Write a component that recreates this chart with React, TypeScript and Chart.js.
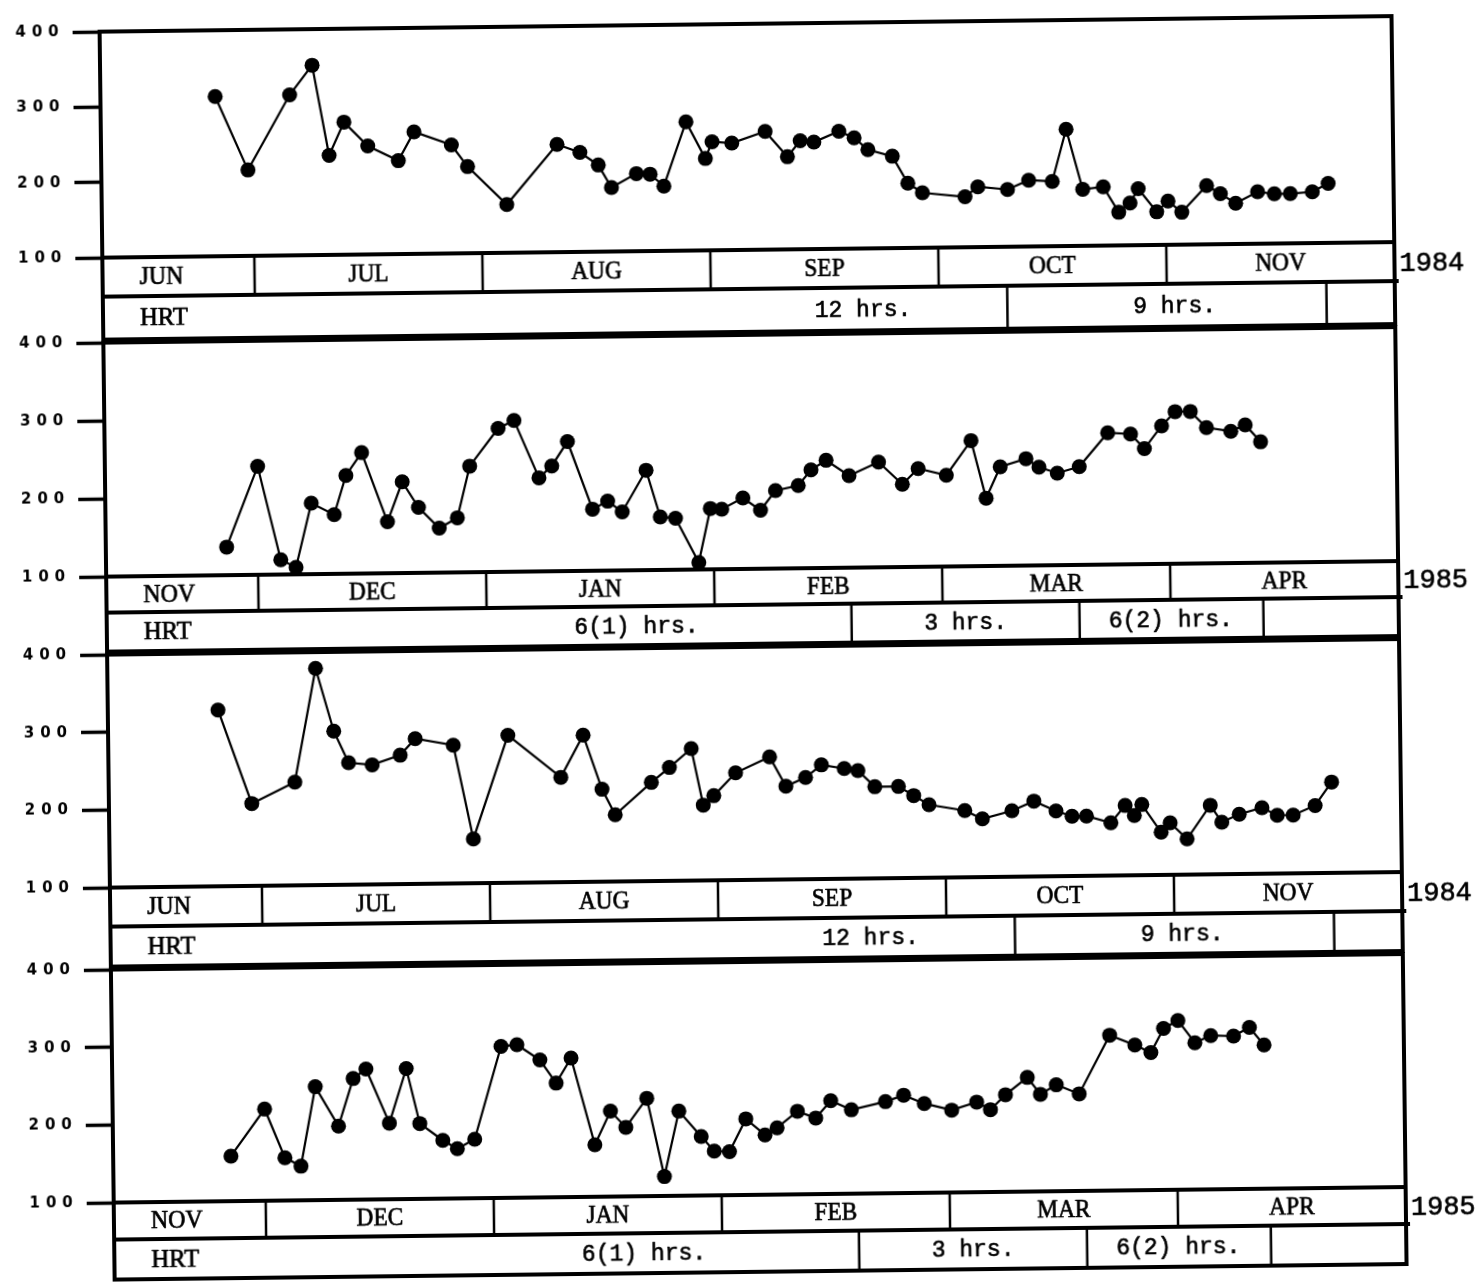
import React, { useEffect, useRef } from "react";
import { Chart, registerables } from "chart.js";

Chart.register(...registerables);

// Positions along the season are in day units: 30 units per month,
// the first month of each row starting at 0.
const monthsA = ["JUN", "JUL", "AUG", "SEP", "OCT", "NOV"];
const monthsB = ["NOV", "DEC", "JAN", "FEB", "MAR", "APR"];
const yTicks = [100, 200, 300, 400];

// Jun–Nov 1984, upper series
const posA1 = [25.1, 29.3, 34.9, 37.9, 40, 42, 45.1, 49.1, 51.2, 56.1, 58.2, 63.3, 70, 73, 75.4, 77.1, 80.4, 82.2, 84, 87, 89.5, 90.4, 93, 97.4, 100.3, 102, 103.8, 107.1, 109.1, 110.9, 114.1, 116.1, 118, 123.6, 125.3, 129.2, 132, 135.1, 137, 139.1, 141.8, 143.8, 145.3, 146.4, 148.8, 150.3, 152.1, 155.4, 157.2, 159.2, 162.1, 164.3, 166.4, 169.3, 171.4];
const valA1 = [312, 214, 313, 352, 232, 276, 244, 224, 262, 244, 215, 164, 243, 232, 215, 185, 203, 202, 186, 271, 222, 244, 242, 257, 223, 244, 242, 256, 247, 231, 222, 186, 173, 167, 180, 176, 188, 186, 255, 175, 178, 144, 156, 175, 144, 158, 143, 178, 167, 154, 169, 166, 166, 168, 179];

// Nov 1984 – Apr 1985, upper series
const posB1 = [25.9, 30.1, 33, 35, 37.1, 40.1, 41.7, 43.8, 47.1, 49.1, 51.2, 53.9, 56.3, 58, 61.8, 63.9, 67.1, 68.8, 70.9, 74.1, 76.1, 78, 81.2, 83, 85, 88, 89.6, 91.1, 93.9, 96.2, 98.2, 101.2, 102.9, 104.9, 107.9, 111.8, 114.9, 117, 120.7, 124, 125.9, 127.8, 131.2, 132.9, 135.3, 138.2, 142, 145, 146.8, 149.1, 150.9, 152.9, 155, 158.2, 160.1, 162.1];
const valB1 = [136, 239, 119, 109, 191, 176, 226, 255, 166, 217, 184, 157, 170, 236, 284, 294, 220, 235, 266, 179, 189, 175, 228, 168, 166, 109, 178, 177, 191, 175, 200, 206, 226, 238, 218, 235, 206, 226, 217, 261, 187, 227, 237, 226, 218, 226, 269, 267, 248, 277, 295, 295, 274, 269, 277, 255];

// Jun–Nov 1984, lower series
const posA2 = [24.5, 28.8, 34.5, 37.4, 39.7, 41.6, 44.7, 48.4, 50.4, 55.4, 57.9, 62.6, 69.5, 72.5, 74.9, 76.6, 81.4, 83.8, 86.7, 88.2, 89.6, 92.5, 97, 99.1, 101.7, 103.8, 106.8, 108.6, 110.8, 113.9, 115.9, 117.9, 122.6, 124.9, 128.8, 131.7, 134.6, 136.7, 138.6, 141.8, 143.7, 144.9, 145.9, 148.4, 149.6, 151.8, 154.9, 156.4, 158.7, 161.7, 163.7, 165.8, 168.7, 170.9];
const valA2 = [327, 206, 233, 379, 298, 257, 254, 266, 287, 278, 157, 290, 235, 289, 219, 186, 227, 246, 270, 197, 209, 238, 258, 220, 231, 247, 242, 239, 218, 218, 206, 194, 186, 175, 185, 197, 184, 177, 177, 168, 190, 177, 191, 155, 167, 146, 189, 167, 177, 185, 175, 175, 187, 217];

// Nov 1984 – Apr 1985, lower series
const posB2 = [25.5, 30, 32.6, 34.7, 36.7, 39.7, 41.7, 43.4, 46.4, 48.7, 50.4, 53.4, 55.3, 57.6, 61.2, 63.3, 66.3, 68.4, 70.4, 73.4, 75.5, 77.5, 80.3, 82.5, 84.5, 87.4, 89.1, 91.1, 93.3, 95.8, 97.4, 100.1, 102.5, 104.5, 107.2, 111.7, 114.1, 116.8, 120.4, 123.7, 125.5, 127.5, 130.4, 132.1, 134.2, 137.2, 141.3, 144.6, 146.7, 148.4, 150.3, 152.5, 154.6, 157.6, 159.7, 161.6];
const valB2 = [158, 218, 155, 144, 246, 195, 256, 268, 198, 268, 197, 175, 164, 176, 295, 297, 277, 247, 279, 167, 210, 189, 226, 125, 209, 176, 157, 156, 198, 177, 186, 207, 198, 220, 208, 218, 226, 215, 206, 216, 206, 225, 247, 225, 237, 225, 300, 287, 277, 308, 318, 289, 298, 297, 308, 285];

// HRT schedule rows: cell boundaries and label positions (day units)
const hrtCutsA = [129, 171];
const hrtTextA = ["12 hrs.", "9 hrs."];
const hrtAtA = [110, 151];
const hrtCutsB = [108, 138, 162.2];
const hrtTextB = ["6(1) hrs.", "3 hrs.", "6(2) hrs."];
const hrtAtB = [79.7, 123, 150];

const yearA = "1984";
const yearB = "1985";

type Panel = {
  pos: number[];
  val: number[];
  months: string[];
  cuts: number[];
  hrtText: string[];
  hrtAt: number[];
  year: string;
  top: number;
  plotH: number;
  monthH: number;
  hrtH: number;
};

const panels: Panel[] = [
  { pos: posA1, val: valA1, months: monthsA, cuts: hrtCutsA, hrtText: hrtTextA, hrtAt: hrtAtA, year: yearA, top: 21, plotH: 229, monthH: 39, hrtH: 43 },
  { pos: posB1, val: valB1, months: monthsB, cuts: hrtCutsB, hrtText: hrtTextB, hrtAt: hrtAtB, year: yearB, top: 332, plotH: 237, monthH: 36, hrtH: 39 },
  { pos: posA2, val: valA2, months: monthsA, cuts: hrtCutsA, hrtText: hrtTextA, hrtAt: hrtAtA, year: yearA, top: 644, plotH: 236, monthH: 39, hrtH: 40 },
  { pos: posB2, val: valB2, months: monthsB, cuts: hrtCutsB, hrtText: hrtTextB, hrtAt: hrtAtB, year: yearB, top: 959, plotH: 236, monthH: 37, hrtH: 40 },
];

const PAD_TOP = 14;
const PAD_BOTTOM_EXTRA = 6;
const WIDTH = 1479;

// Text with a light outline so the typewriter lettering reads heavier.
function inkText(ctx: CanvasRenderingContext2D, text: string, x: number, y: number, sx: number, align: CanvasTextAlign, weight: number) {
  ctx.save();
  ctx.translate(x, y);
  ctx.scale(sx, 1);
  ctx.textAlign = align;
  ctx.lineWidth = weight;
  ctx.lineJoin = "round";
  ctx.fillText(text, 0, 0);
  ctx.strokeText(text, 0, 0);
  ctx.restore();
}

function makeTablePlugin(p: Panel) {
  return {
    id: "monthTable",
    beforeDraw(chart: any) {
      (chart.ctx as any).letterSpacing = "6px";
    },
    afterDraw(chart: any) {
      const ctx: CanvasRenderingContext2D = chart.ctx;
      const a = chart.chartArea;
      const x = chart.scales.x;
      const L = a.left;
      const R = a.right;
      const T = a.top;
      const B = a.bottom;
      const mB = B + p.monthH;
      const hB = mB + p.hrtH;
      ctx.save();
      (ctx as any).letterSpacing = "0px";
      ctx.strokeStyle = "#000";
      ctx.fillStyle = "#000";
      ctx.lineCap = "butt";
      const line = (x1: number, y1: number, x2: number, y2: number) => {
        ctx.beginPath();
        ctx.moveTo(x1, y1);
        ctx.lineTo(x2, y2);
        ctx.stroke();
      };
      // horizontal rules
      ctx.lineWidth = 3.8;
      line(L, T, R, T);
      line(L, B, R, B);
      line(L, mB, R + 4, mB);
      line(L, hB, R, hB);
      // outer frame sides
      ctx.lineWidth = 4;
      line(L, T - 2, L, hB + 2);
      line(R, T - 2, R, hB + 2);
      // month dividers
      ctx.lineWidth = 2.5;
      for (let k = 1; k < p.months.length; k++) {
        const px = x.getPixelForValue(30 * k);
        line(px, B, px, mB);
      }
      // HRT dividers
      for (const c of p.cuts) {
        const px = x.getPixelForValue(c);
        line(px, mB, px, hB);
      }
      // month names
      ctx.font = '26px "Liberation Serif"';
      ctx.textBaseline = "middle";
      const my = (B + mB) / 2 + 1;
      p.months.forEach((m, k) => {
        if (k === 0) {
          inkText(ctx, m, L + 37, my, 0.92, "left", 0.7);
        } else {
          const cx = x.getPixelForValue(30 * k + 15);
          inkText(ctx, m, cx, my, 0.9, "center", 0.7);
        }
      });
      const hy = (mB + hB) / 2 + 1;
      inkText(ctx, "HRT", L + 37, hy, 0.95, "left", 0.7);
      // HRT cell labels
      ctx.font = '23px "Liberation Mono"';
      p.hrtText.forEach((t, i) => {
        inkText(ctx, t, x.getPixelForValue(p.hrtAt[i]), hy, 1, "center", 0.6);
      });
      // year
      ctx.font = '27px "Liberation Mono"';
      inkText(ctx, p.year, R + 5, my + 1, 1, "left", 0.6);
      ctx.restore();
    },
  };
}

function PanelChart({ p }: { p: Panel }) {
  const ref = useRef<HTMLCanvasElement | null>(null);
  const height = PAD_TOP + p.plotH + p.monthH + p.hrtH + PAD_BOTTOM_EXTRA;

  useEffect(() => {
    if (!ref.current) return;
    const chart = new Chart(ref.current, {
      type: "line",
      data: {
        datasets: [
          {
            data: p.pos.map((d, i) => ({ x: d, y: p.val[i] })),
            borderColor: "#000",
            borderWidth: 2.2,
            pointRadius: 7.5,
            pointHoverRadius: 7.5,
            pointBackgroundColor: "#000",
            pointBorderWidth: 0,
            tension: 0,
            clip: false as any,
          },
        ],
      },
      options: {
        responsive: false,
        animation: false,
        devicePixelRatio: 1,
        events: [],
        layout: { padding: { top: PAD_TOP, right: WIDTH - 1399, bottom: p.monthH + p.hrtH + PAD_BOTTOM_EXTRA, left: 0 } },
        plugins: { legend: { display: false }, tooltip: { enabled: false } },
        scales: {
          x: { type: "linear", min: 10, max: 180, display: false },
          y: {
            type: "linear",
            min: 100,
            max: 400,
            afterFit: (s: any) => {
              s.width = 107;
            },
            afterBuildTicks: (s: any) => {
              s.ticks = yTicks.map((v) => ({ value: v }));
            },
            ticks: {
              color: "#000",
              padding: 8,
              font: { family: '"DejaVu Sans"', size: 15, weight: "bold" },
            },
            grid: {
              drawOnChartArea: false,
              drawTicks: true,
              tickLength: 27,
              tickWidth: 3.5,
              tickColor: "#000",
            },
            border: { display: false },
          },
        },
      },
      plugins: [makeTablePlugin(p)],
    });
    return () => chart.destroy();
  }, [p]);

  return (
    <canvas
      ref={ref}
      width={WIDTH}
      height={height}
      style={{ position: "absolute", left: 0, top: p.top - PAD_TOP, width: WIDTH, height }}
    />
  );
}

export default function App() {
  return (
    <div
      style={{
        position: "absolute",
        left: 0,
        top: 0,
        width: WIDTH,
        height: 1285,
        overflow: "visible",
        transform: "rotate(-0.69deg)",
        transformOrigin: "740px 642px",
      }}
    >
      {panels.map((p, i) => (
        <PanelChart key={i} p={p} />
      ))}
    </div>
  );
}
